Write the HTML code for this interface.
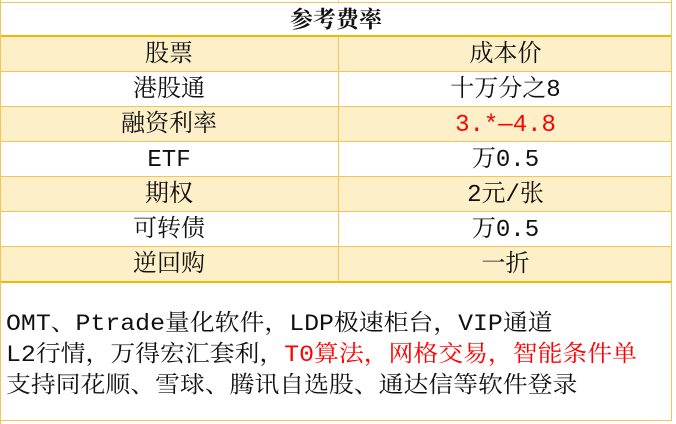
<!DOCTYPE html>
<html><head><meta charset="utf-8"><style>
body{margin:0;width:676px;height:424px;background:#fff;overflow:hidden;position:relative;font-family:"Liberation Mono","Noto Serif CJK SC",serif;color:#111}
.r{position:absolute;left:0;width:672px;height:35px;border-bottom:1px solid #f3c45a;box-sizing:border-box}
.p{background:#fdefc8}
.c{position:absolute;top:2px;height:32px;line-height:34px;text-align:center;font-size:24px}
.a{left:0;width:338px}.b{left:338px;width:334px;top:0;height:34px;padding-top:2px;border-left:1px solid #f3c45a;box-sizing:border-box}
.t{position:absolute;left:6px;font-size:23px;white-space:nowrap;transform:scaleX(1.08);transform-origin:0 0;line-height:30px}
.red{color:#f00}
</style></head><body>
<div style="position:absolute;left:338px;top:0;width:1px;height:3px;background:#e6d9b8"></div>
<div style="position:absolute;left:0;top:2px;width:672px;height:34px;border-top:1px solid #f3c45a;text-align:center;line-height:36px;font-size:23px;font-weight:bold">参考费率</div>
<div style="position:absolute;left:0;top:35px;width:672px;height:2px;background:#f5b800"></div>
<div class="r p" style="top:37px"><div class="c a">股票</div><div class="c b">成本价</div></div>
<div class="r" style="top:72px"><div class="c a">港股通</div><div class="c b">十万分之8</div></div>
<div class="r p" style="top:107px"><div class="c a">融资利率</div><div class="c b red">3.*—4.8</div></div>
<div class="r" style="top:142px"><div class="c a">ETF</div><div class="c b">万0.5</div></div>
<div class="r p" style="top:177px"><div class="c a">期权</div><div class="c b">2元/张</div></div>
<div class="r" style="top:212px"><div class="c a">可转债</div><div class="c b">万0.5</div></div>
<div class="r p" style="top:247px"><div class="c a">逆回购</div><div class="c b">一折</div></div>
<div style="position:absolute;left:0;top:281px;width:672px;height:2px;background:#f5b800"></div>
<div style="position:absolute;left:0;top:0;width:1px;height:424px;background:#f3c45a"></div>
<div style="position:absolute;left:671px;top:0;width:1px;height:421px;background:#f3c45a"></div>
<div style="position:absolute;left:0;top:420px;width:672px;height:1px;background:#f3c45a"></div>
<div class="t" style="top:309px">OMT、Ptrade量化软件，LDP极速柜台，VIP通道</div>
<div class="t" style="top:340px">L2行情，万得宏汇套利，<span class="red">T0算法，网格交易，智能条件单</span></div>
<div class="t" style="top:371px">支持同花顺、雪球、腾讯自选股、通达信等软件登录</div>
</body></html>
